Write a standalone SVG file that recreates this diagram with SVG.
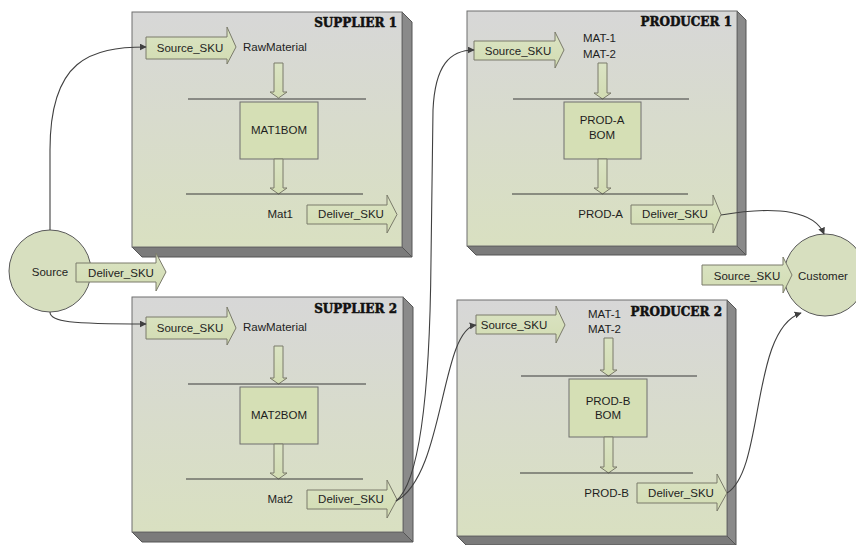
<svg xmlns="http://www.w3.org/2000/svg" width="856" height="545" viewBox="0 0 856 545">
<defs>
<linearGradient id="face" x1="0" y1="0" x2="0" y2="1">
<stop offset="0" stop-color="#d7d7d7"/>
<stop offset="1" stop-color="#d9e0c1"/>
</linearGradient>
<linearGradient id="arr" x1="0" y1="0" x2="0" y2="1">
<stop offset="0" stop-color="#dbe4c4"/>
<stop offset="1" stop-color="#d2dcb2"/>
</linearGradient>
<marker id="ah" viewBox="0 0 10 10" refX="9" refY="5" markerWidth="7" markerHeight="7" markerUnits="userSpaceOnUse" orient="auto">
<path d="M0,0 L10,5 L0,10 z" fill="#404040"/>
</marker>
</defs>
<style>
.face{fill:url(#face);stroke:#6f6f6f;stroke-width:1}
.side{fill:#8a8a8a;stroke:#555;stroke-width:1}
.bot{fill:#7b7b7b;stroke:#555;stroke-width:1}
.ba{fill:url(#arr);stroke:#7a7a6a;stroke-width:1}
.bom{fill:#d5dfb5;stroke:#6f6f6f;stroke-width:1}
.ln{stroke:#3a3a3a;stroke-width:1;fill:none}
.cn{stroke:#404040;stroke-width:1.1;fill:none;marker-end:url(#ah)}
.circ{fill:#d7dfbf;stroke:#5a5a5a;stroke-width:1}
.t{font-family:"Liberation Sans",Arial,sans-serif;font-size:11.5px;fill:#1e1e1e}
.m{text-anchor:middle}
.e{text-anchor:end}
.ttl{font-family:"DejaVu Serif",serif;font-weight:bold;font-size:12px;fill:#111;stroke:#111;stroke-width:0.5;text-anchor:end}
</style>

<g id="supplier1">
<polygon class="side" points="402,12 412,22 412,257 402,247"/>
<polygon class="bot" points="132,247 402,247 412,257 142,257"/>
<rect class="face" x="132" y="12" width="270" height="235"/>
<text class="ttl" x="397" y="27">SUPPLIER 1</text>
<polygon class="ba" points="146,37 227,37 227,27 236,47 227,64 227,59 146,59"/>
<text class="t m" x="190" y="52">Source_SKU</text>
<text class="t" x="243" y="51">RawMaterial</text>
<polygon class="ba" points="274,63 283,63 283,92 287,92 278.5,98 270,92 274,92"/>
<line class="ln" x1="188" y1="99" x2="366" y2="99"/>
<rect class="bom" x="240" y="102" width="78" height="57"/>
<text class="t m" x="279" y="134">MAT1BOM</text>
<polygon class="ba" points="274,159 283,159 283,188 287,188 278.5,194 270,188 274,188"/>
<line class="ln" x1="186" y1="194" x2="363" y2="194"/>
<text class="t e" x="293" y="218">Mat1</text>
<polygon class="ba" points="307,205 387,205 387,195 397,214.5 387,233 387,224 307,224"/>
<text class="t m" x="351" y="218">Deliver_SKU</text>
</g>

<g id="supplier2">
<polygon class="side" points="403,297 413,307 413,542 403,532"/>
<polygon class="bot" points="132,532 403,532 413,542 142,542"/>
<rect class="face" x="132" y="297" width="271" height="235"/>
<text class="ttl" x="397" y="313">SUPPLIER 2</text>
<polygon class="ba" points="146,317 227,317 227,307 236,328 227,345 227,339 146,339"/>
<text class="t m" x="190" y="332">Source_SKU</text>
<text class="t" x="243" y="331">RawMaterial</text>
<polygon class="ba" points="274,346 283,346 283,378 287,378 278.5,384 270,378 274,378"/>
<line class="ln" x1="188" y1="384" x2="366" y2="384"/>
<rect class="bom" x="240" y="387" width="78" height="57"/>
<text class="t m" x="279" y="419">MAT2BOM</text>
<polygon class="ba" points="274,444 283,444 283,473 287,473 278.5,479 270,473 274,473"/>
<line class="ln" x1="186" y1="479" x2="363" y2="479"/>
<text class="t e" x="293" y="503">Mat2</text>
<polygon class="ba" points="307,490 387,490 387,480 397,499.5 387,518 387,509 307,509"/>
<text class="t m" x="351" y="503">Deliver_SKU</text>
</g>

<g id="producer1">
<polygon class="side" points="737,11 746,20 746,255 737,246"/>
<polygon class="bot" points="467,246 737,246 746,255 476,255"/>
<rect class="face" x="467" y="11" width="270" height="235"/>
<text class="ttl" x="732" y="26">PRODUCER 1</text>
<polygon class="ba" points="474,41 555,41 555,32 564,50 555,68 555,60 474,60"/>
<text class="t m" x="518" y="55">Source_SKU</text>
<text class="t" x="583" y="42">MAT-1</text>
<text class="t" x="583" y="58">MAT-2</text>
<polygon class="ba" points="598,63 607,63 607,93 611,93 602.5,99 594,93 598,93"/>
<line class="ln" x1="513" y1="99" x2="689" y2="99"/>
<rect class="bom" x="564" y="102" width="77" height="57"/>
<text class="t m" x="602" y="124">PROD-A</text>
<text class="t m" x="602" y="139">BOM</text>
<polygon class="ba" points="598,159 607,159 607,188 611,188 602.5,194 594,188 598,188"/>
<line class="ln" x1="512" y1="194" x2="688" y2="194"/>
<text class="t e" x="623" y="218">PROD-A</text>
<polygon class="ba" points="631,205 713,205 713,195 721,214.5 713,233 713,224 631,224"/>
<text class="t m" x="675" y="218">Deliver_SKU</text>
</g>

<g id="producer2">
<polygon class="side" points="727,300 736,309 736,545 727,536"/>
<polygon class="bot" points="457,536 727,536 736,545 466,545"/>
<rect class="face" x="457" y="300" width="270" height="236"/>
<polygon class="ba" points="476,315 556,315 556,306 565,325 556,343 556,334 476,334"/>
<text class="t m" x="514" y="329">Source_SKU</text>
<text class="t" x="588" y="318">MAT-1</text>
<text class="t" x="588" y="333">MAT-2</text>
<text class="ttl" x="722" y="316">PRODUCER 2</text>
<polygon class="ba" points="604,338 613,338 613,370 617,370 608.5,376 600,370 604,370"/>
<line class="ln" x1="521" y1="376" x2="697" y2="376"/>
<rect class="bom" x="569" y="379" width="78" height="58"/>
<text class="t m" x="608" y="405">PROD-B</text>
<text class="t m" x="608" y="419">BOM</text>
<polygon class="ba" points="604,437 613,437 613,467 617,467 608.5,473 600,467 604,467"/>
<line class="ln" x1="520" y1="473" x2="693" y2="473"/>
<text class="t e" x="629" y="497">PROD-B</text>
<polygon class="ba" points="637,483 717,483 717,474 727,493 717,511 717,503 637,503"/>
<text class="t m" x="681" y="497">Deliver_SKU</text>
</g>

<g id="source">
<circle class="circ" cx="50" cy="271" r="41"/>
<text class="t m" x="50" y="276">Source</text>
<polygon class="ba" points="76,263 156,263 156,253 166,272 156,291 156,282 76,282"/>
<text class="t m" x="121" y="277">Deliver_SKU</text>
</g>

<g id="customer">
<circle class="circ" cx="825" cy="275" r="41"/>
<polygon class="ba" points="702,265 783,265 783,257 792,275 783,293 783,285 702,285"/>
<text class="t m" x="747" y="280">Source_SKU</text>
<text class="t m" x="823" y="280">Customer</text>
</g>

<g id="connectors">
<path class="cn" d="M50,230 L50,150 C50,60 90,47 146,47"/>
<path class="cn" d="M50,312 C50,322 70,324 146,324"/>
<path class="cn" d="M396,501 C422,480 430,380 431,260 L433,110 C435,65 450,50 474,50"/>
<path class="cn" d="M396,501 C445,475 440,330 476,325"/>
<path class="cn" d="M721,215 C780,205 815,212 824,234"/>
<path class="cn" d="M727,493 C765,470 750,330 801,313"/>
</g>
</svg>
